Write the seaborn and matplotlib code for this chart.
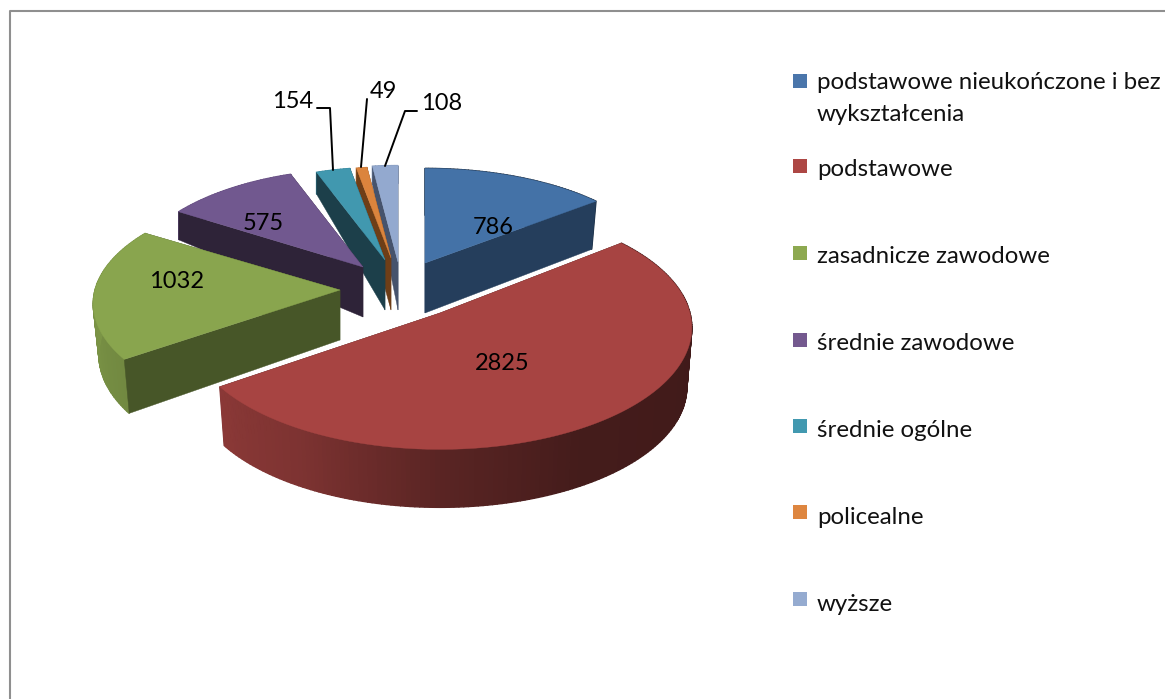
import numpy as np
import seaborn as sns
import matplotlib.pyplot as plt

# chart data
categories = ["podstawowe nieukończone i bez\nwykształcenia", "podstawowe", "zasadnicze zawodowe",
              "średnie zawodowe", "średnie ogólne", "policealne", "wyższe"]
values = [786, 2825, 1032, 575, 154, 49, 108]

# colours of the top surface and of the cut faces
top_colors = ["#4472A7", "#A74442", "#89A54E", "#71588F", "#4198AF", "#DB843D", "#93A9CF"]
face_colors = ["#253E5C", "#441C1A", "#475628", "#2E2338", "#1C3F4A", "#6E3E17", "#46536C"]
legend_colors = ["#4A76AB", "#AD4744", "#8DA950", "#74598F", "#4299B0", "#DE8640", "#95ABD0"]

# layout of each exploded slice, in pixels: apex, radii, depth and how the bottom shrinks
apex_x = [425, 440, 340, 363, 385, 391, 398]
apex_y = [263, 313, 290, 267, 260, 258, 262]
radius_x = [236, 250, 245, 232, 220, 218, 234]
radius_y = [106, 120, 113, 110, 104, 102, 108]
depth_mid = [50, 60, 50, 50, 50, 52, 48]
depth_slope = [-3, 2, -7, -41, -30, -35, -30]
bottom_scale = [0.975, 0.98, 0.977, 1, 1, 1, 1]
perspective = 0.12

sns.set_theme(style="white")
plt.rcParams["font.family"] = ["Lato", "DejaVu Sans"]

fig = plt.figure(figsize=(11.65, 6.99), dpi=100)
ax = fig.add_axes([0, 0, 1, 1])
ax.set_xlim(0, 1165)
ax.set_ylim(699, 0)
ax.axis("off")


def arc_points(i, theta):
    # top and bottom outline of slice i for angles theta (deg, clockwise from 12 o'clock)
    t = np.radians(theta)
    xx, yy = np.sin(t), np.cos(t)
    s = 1 / (1 + perspective * yy)
    x = apex_x[i] + radius_x[i] * xx * s
    y = apex_y[i] - radius_y[i] * yy * s
    xb = apex_x[i] + (x - apex_x[i]) * bottom_scale[i]
    yb = y + depth_mid[i] + depth_slope[i] * yy
    return x, y, xb, yb


def draw_faces(i, x, y, xb, yb):
    # the two cut faces
    bx = apex_x[i]
    by = apex_y[i] + depth_mid[i]
    for k in [0, -1]:
        ax.fill([bx, bx, xb[k], x[k]], [apex_y[i], by, yb[k], y[k]], color=face_colors[i], lw=0.3)


def draw_rim(i, theta, x, y, xb, yb):
    # rim, split into strips for the shading
    base = np.array(sns.color_palette([top_colors[i]])[0])
    for j in range(len(theta) - 1):
        shade = np.interp(theta[j], [90, 150, 180, 210, 235, 270, 360],
                          [0.38, 0.41, 0.54, 0.75, 0.83, 0.9, 0.9])
        ax.fill([x[j], x[j + 1], xb[j + 1], xb[j]], [y[j], y[j + 1], yb[j + 1], yb[j]],
                color=base * shade, lw=1.0)


edges = np.concatenate([[0], np.cumsum(values)]) / np.sum(values) * 360

# painter's order, back slices first
for i in [6, 5, 4, 3, 0, 2, 1]:
    theta = np.linspace(edges[i], edges[i + 1], max(int(edges[i + 1] - edges[i]) + 2, 3))
    x, y, xb, yb = arc_points(i, theta)

    # a slice over half the pie hides its cut faces behind the rim
    if edges[i + 1] - edges[i] > 180 or values[i] == max(values):
        draw_faces(i, x, y, xb, yb)
        draw_rim(i, theta, x, y, xb, yb)
    else:
        draw_rim(i, theta, x, y, xb, yb)
        draw_faces(i, x, y, xb, yb)

    # top surface
    ax.fill(np.r_[apex_x[i], x], np.r_[apex_y[i], y], color=top_colors[i], lw=0.3)

# value labels
label_x = [493, 502, 177, 263, 293, 383, 442]
label_y = [228, 363, 282, 224, 102, 91, 104]
for v, lx, ly in zip(values, label_x, label_y):
    ax.text(lx, ly, str(v), ha="center", va="center", fontsize=17, color="black")

# leader lines
ax.plot([317, 330, 333], [108, 108, 170], color="black", lw=1.4)
ax.plot([367, 361], [99, 167], color="black", lw=1.4)
ax.plot([417, 405, 385], [111, 111, 166], color="black", lw=1.4)

# legend, runs off the right edge like the original
marker_y = [81, 166, 253, 340, 426, 512, 599]
text_y = [89, 176, 263, 350, 437, 524, 611]
for name, c, my, ty in zip(categories, legend_colors, marker_y, text_y):
    ax.scatter([800], [my], marker="s", s=100, color=c, linewidths=0)
    for n, line in enumerate(name.split("\n")):
        ax.text(817, ty + 32 * n, line, ha="left", va="baseline", fontsize=17.3, color="#111111")

# chart frame
ax.plot([9.5, 9.5, 1170], [705, 10.5, 10.5], color="#8f8f8f", lw=1.5)

fig.savefig("out.png", dpi=100)
